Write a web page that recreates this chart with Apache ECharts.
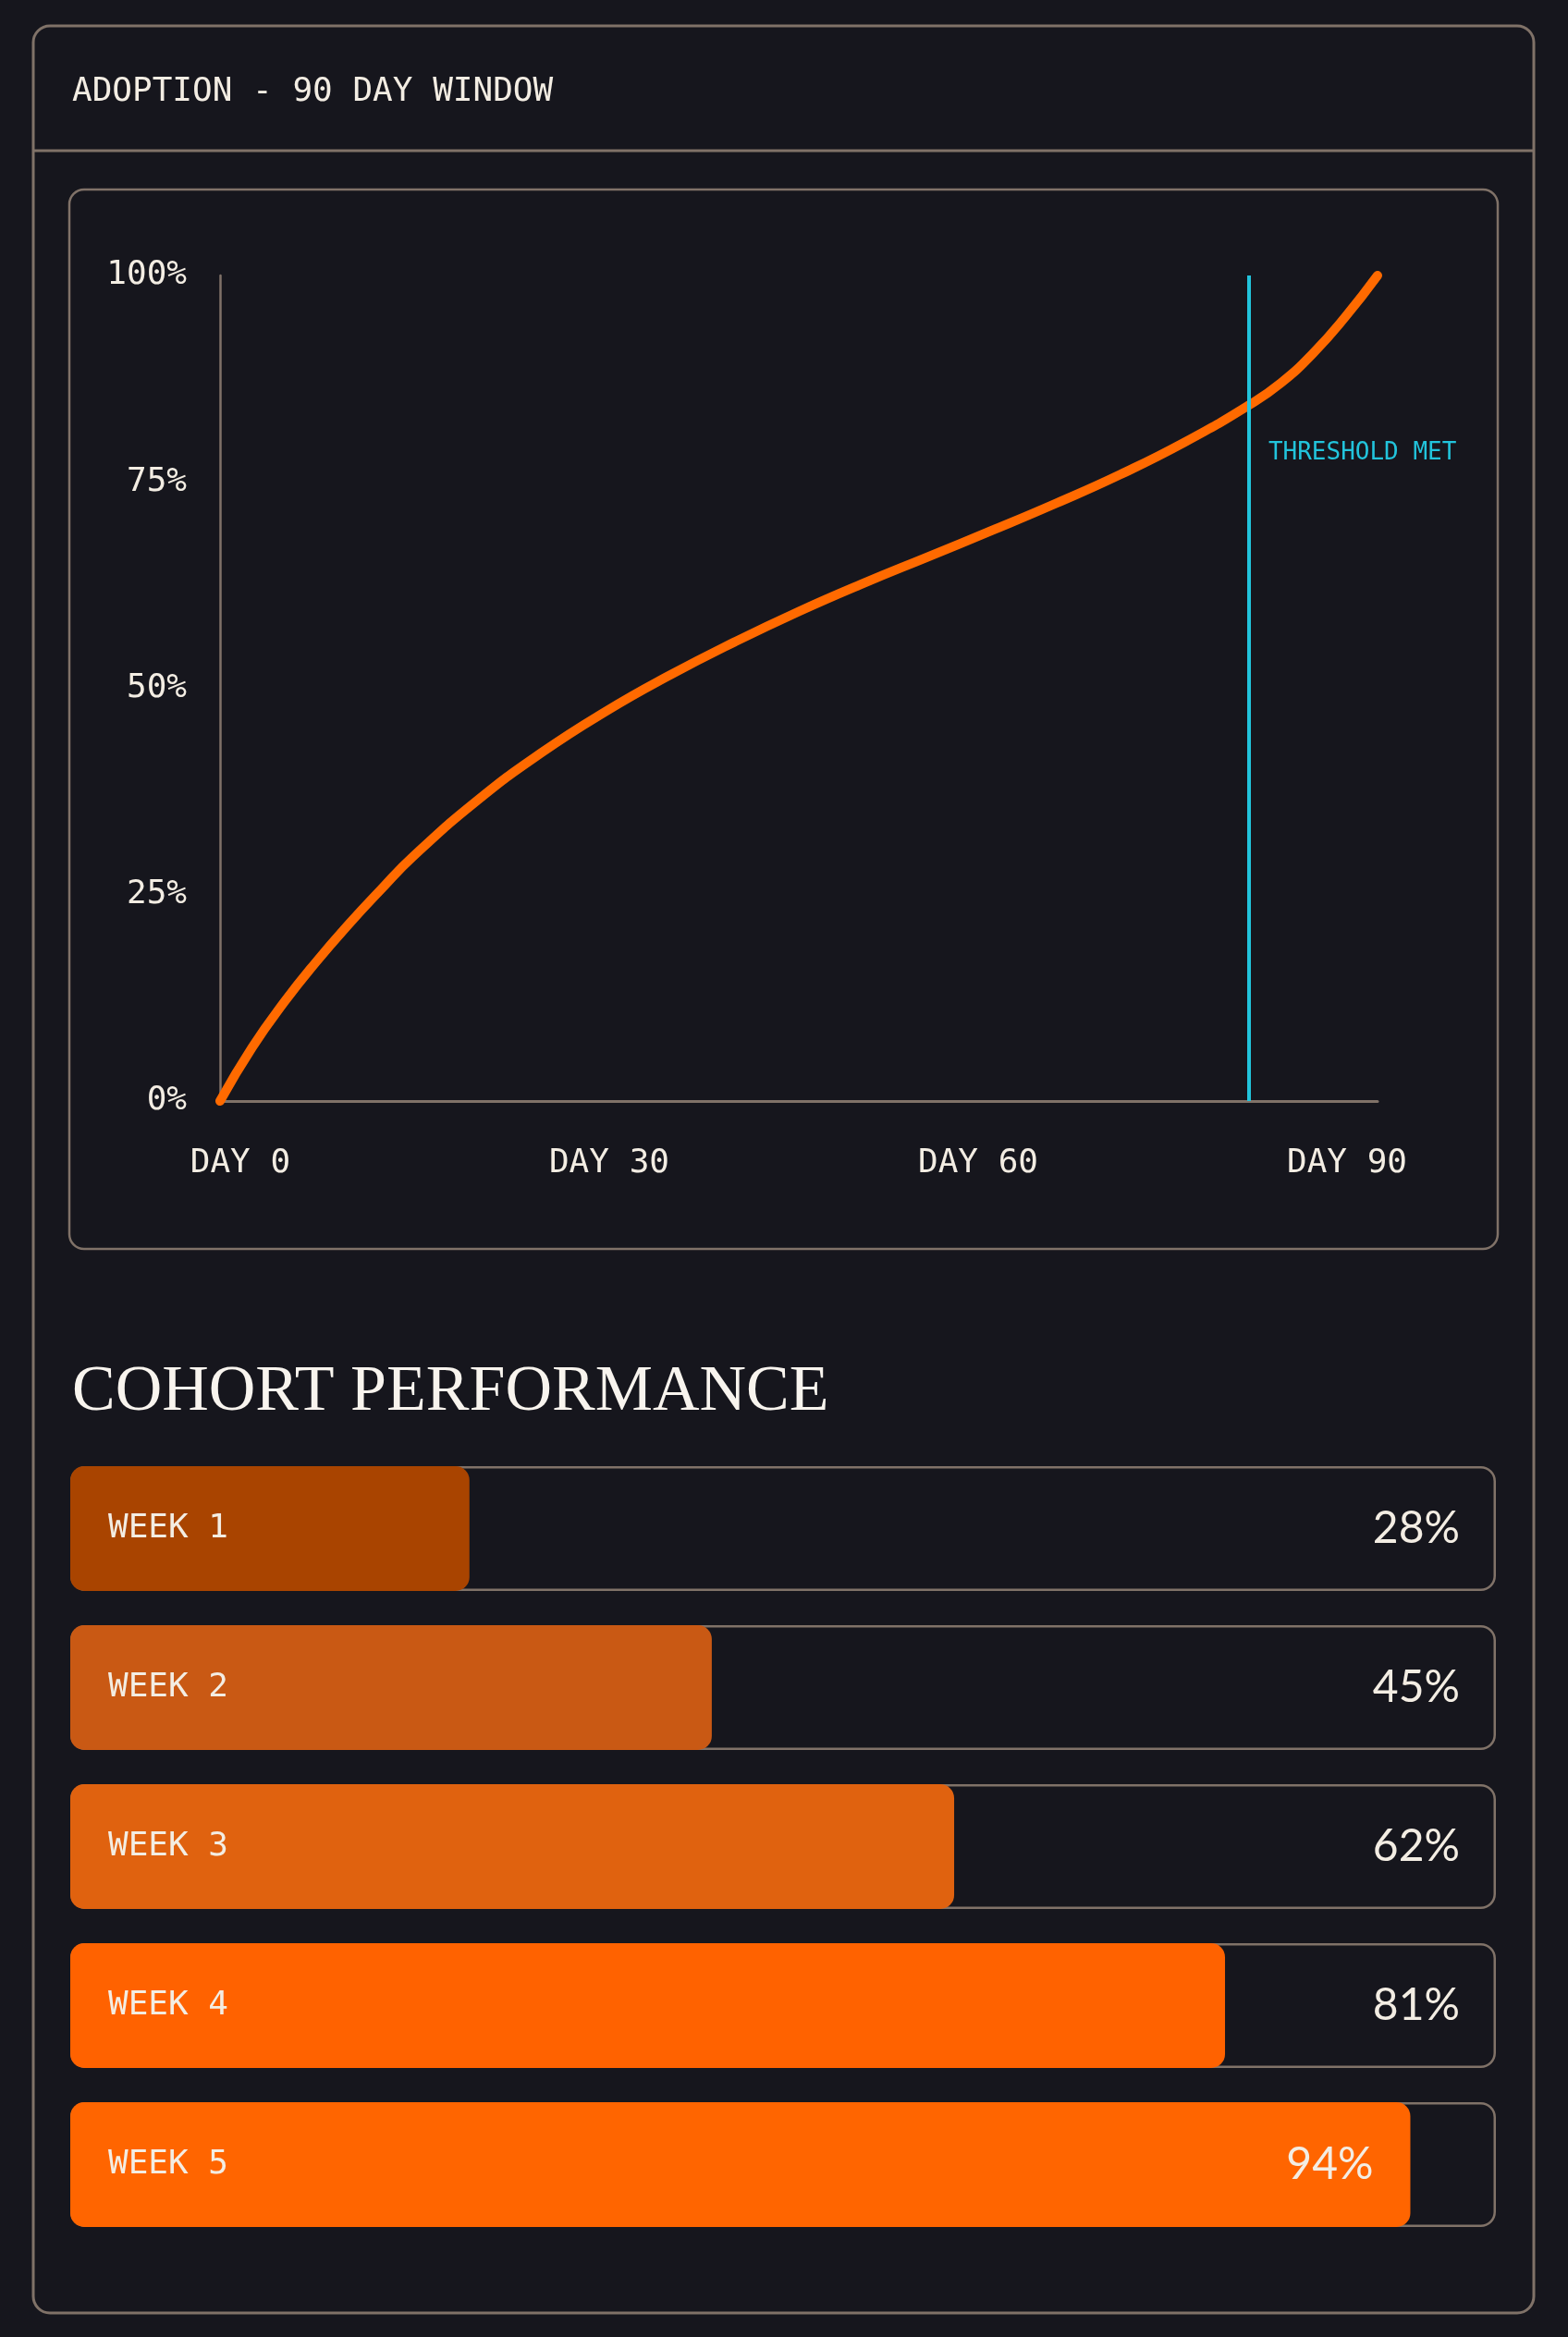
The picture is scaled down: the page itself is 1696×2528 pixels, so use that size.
<!DOCTYPE html>
<html>
<head>
<meta charset="utf-8">
<script src="https://cdn.jsdelivr.net/npm/echarts@6/dist/echarts.min.js"></script>
<style>
html,body{margin:0;padding:0;background:#16161d;}
#c{width:1696px;height:2528px;}
</style>
</head>
<body>
<div id="c"></div>
<script>
// ---- data ----
const curveDays   = [0, 2.5, 5, 7.5, 10, 12.5, 15, 20, 25, 30, 35, 40, 45, 50, 55, 60, 65, 70, 75, 80, 82.5, 85, 87.5, 90];
const curveValues = [0, 6.5, 12.0, 16.9, 21.4, 25.6, 29.6, 36.4, 42.2, 47.2, 51.6, 55.6, 59.3, 62.7, 65.9, 69.1, 72.4, 75.9, 79.8, 84.3, 87.0, 90.6, 95.0, 100];
const yTickValues = [0, 25, 50, 75, 100];
const xTickDays = [0, 30, 60, 90];
const thresholdDay = 80;
const thresholdLabelValue = 78.5;
const thresholdText = 'THRESHOLD MET';

const cohortNames  = ['WEEK 1', 'WEEK 2', 'WEEK 3', 'WEEK 4', 'WEEK 5'];
const cohortValues = [28, 45, 62, 81, 94];
const trackMax     = [100, 100, 100, 100, 100];
const cohortColors = ['#a94400', '#c95914', '#e0620f', '#ff6200', '#ff6500'];

// ---- styles ----
const BG = '#16161d';
const TAUPE = '#807268';
const CREAM = '#f3ede3';
const CYAN = '#22c4dc';
const ORANGE = '#ff6a00';
const MONO = '"DejaVu Sans Mono", "Liberation Mono", monospace';

const chart = echarts.init(document.getElementById('c'), null, {renderer: 'canvas'});

const option = {
  backgroundColor: BG,
  animation: false,
  graphic: [
    {type: 'rect', z: -10, shape: {x: 36, y: 28, width: 1623, height: 2474, r: 18},
     style: {fill: BG, stroke: TAUPE, lineWidth: 3}},
    {type: 'line', z: -9, shape: {x1: 36, y1: 163, x2: 1659, y2: 163},
     style: {stroke: TAUPE, lineWidth: 3}},
    {type: 'rect', z: -9, shape: {x: 75, y: 205, width: 1545, height: 1146, r: 16},
     style: {fill: 'none', stroke: TAUPE, lineWidth: 2.5}},
    {type: 'text', z: 5, x: 78, y: 100,
     style: {text: 'ADOPTION - 90 DAY WINDOW', font: '36px ' + MONO, fill: CREAM, verticalAlign: 'middle', align: 'left'}},
    {type: 'text', z: 5, x: 78, y: 1507,
     style: {text: 'COHORT PERFORMANCE', font: '70px "Liberation Serif", "DejaVu Serif", serif', fill: '#f8f4ee', verticalAlign: 'middle', align: 'left'}}
  ],
  grid: [
    {left: 238, top: 298, width: 1252, height: 893},
    {left: 76, top: 1567.5, width: 1542, height: 860}
  ],
  xAxis: [
    {gridIndex: 0, type: 'value', min: 0, max: 90,
     axisLine: {show: true, onZero: false, lineStyle: {color: TAUPE, width: 3}},
     axisTick: {show: false}, axisLabel: {show: false}, splitLine: {show: false}},
    {gridIndex: 0, type: 'value', min: -1.65, max: 92.48, position: 'bottom',
     axisLine: {show: false, onZero: false}, axisTick: {show: false}, splitLine: {show: false},
     axisLabel: {customValues: xTickDays, formatter: v => 'DAY ' + v, margin: 50,
                 fontFamily: MONO, fontSize: 36, color: CREAM}},
    {gridIndex: 1, type: 'value', min: 0, max: 100, show: false}
  ],
  yAxis: [
    {gridIndex: 0, type: 'value', min: 0, max: 100, interval: 25,
     axisLine: {show: true, onZero: false, lineStyle: {color: TAUPE, width: 2.5}},
     axisTick: {show: false}, splitLine: {show: false},
     axisLabel: {customValues: yTickValues, formatter: '{value}%', margin: 36,
                 fontFamily: MONO, fontSize: 36, color: CREAM}},
    {gridIndex: 1, type: 'category', data: cohortNames, inverse: true, z: 10,
     axisLine: {show: false}, axisTick: {show: false}, splitLine: {show: false},
     axisLabel: {inside: true, margin: 41, fontFamily: MONO, fontSize: 36, color: CREAM}}
  ],
  series: [
    {
      type: 'line', xAxisIndex: 0, yAxisIndex: 0,
      data: curveDays.map((d, i) => [d, curveValues[i]]),
      smooth: 0.5, symbol: 'none', z: 3,
      lineStyle: {color: ORANGE, width: 10, cap: 'round', join: 'round'},
      markLine: {
        silent: true, symbol: 'none',
        lineStyle: {color: CYAN, width: 4, type: 'solid'},
        label: {show: false},
        data: [{xAxis: thresholdDay}]
      },
      markPoint: {
        silent: true, symbol: 'circle', symbolSize: 0,
        label: {show: true, position: 'right', distance: 21, formatter: thresholdText,
                color: CYAN, fontFamily: MONO, fontSize: 26},
        data: [{coord: [thresholdDay, thresholdLabelValue]}]
      }
    },
    {
      type: 'bar', xAxisIndex: 2, yAxisIndex: 1, silent: true,
      data: trackMax, barWidth: 135, barGap: '-100%',
      itemStyle: {color: 'rgba(0,0,0,0)', borderColor: TAUPE, borderWidth: 2.5, borderRadius: 15},
      label: {show: true, position: 'insideRight', distance: 39,
              formatter: p => cohortValues[p.dataIndex] >= 90 ? '' : cohortValues[p.dataIndex] + '%',
              fontFamily: 'Lato, "Open Sans", sans-serif', fontSize: 48, color: CREAM}
    },
    {
      type: 'bar', xAxisIndex: 2, yAxisIndex: 1, silent: true,
      data: cohortValues.map((v, i) => ({value: v, itemStyle: {color: cohortColors[i]}})),
      barWidth: 135, barGap: '-100%',
      itemStyle: {borderRadius: 15},
      label: {show: true, position: 'insideRight', distance: 40,
              formatter: p => p.value >= 90 ? p.value + '%' : '',
              fontFamily: 'Lato, "Open Sans", sans-serif', fontSize: 48, color: CREAM}
    }
  ]
};
chart.setOption(option);
</script>
</body>
</html>
